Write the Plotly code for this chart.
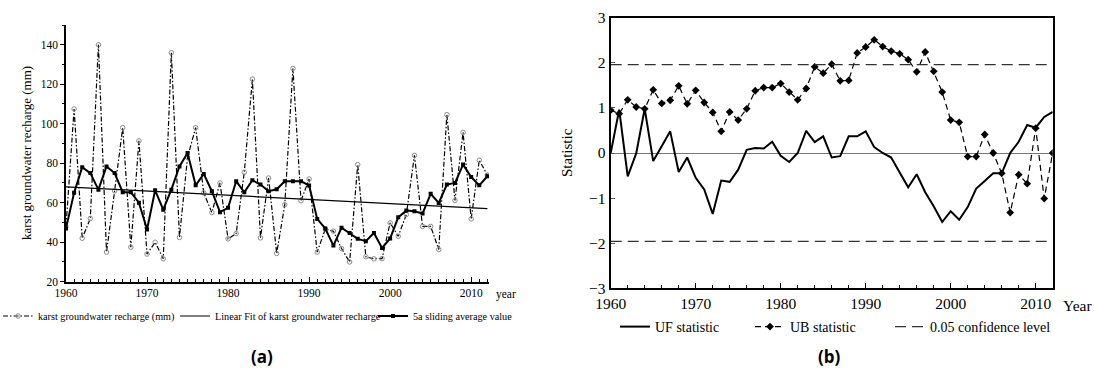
import plotly.graph_objects as go

# ---------------- data (a) ----------------
years_a = list(range(1960, 2013))
recharge = [48, 107.5, 42, 52, 140, 35, 66, 98, 37.5, 91.3,
            34, 40, 31.6, 136, 42.4, 83, 98, 65, 55, 70,
            41.7, 44.4, 75.4, 122.6, 42.2, 72.5, 34.3, 59, 128, 61,
            72, 35, 46.7, 45.6, 36.8, 30, 79.3, 32.6, 31.6, 31.7,
            49.8, 43, 54, 84, 48, 48, 36.3, 104.6, 61.2, 95.6,
            51.8, 81.5, 74]
sliding_avg = [47, 65, 78, 75, 66.6, 78.4, 75, 65.3, 65.3, 60,
               46.4, 66.3, 56.5, 66.6, 78.4, 85.2, 68.8, 74.6, 65.8, 55.2,
               57.4, 70.9, 65.3, 71.4, 69.2, 65.8, 66.8, 70.9, 70.9, 70.9,
               68.7, 51.8, 46.9, 38.3, 47.3, 44.7, 41.7, 40.5, 44.7, 37.1,
               41.9, 52.6, 56, 55.7, 54.5, 64.5, 59.9, 69.2, 70, 79.3,
               73, 68.8, 73.4]
fit_years = [1960, 2012]
fit_values = [68, 57]

# ---------------- data (b) ----------------
years_b = list(range(1960, 2013))
uf = [0, 0.96, -0.52, -0.01, 0.98, -0.18, 0.15, 0.48, -0.42, -0.10,
      -0.55, -0.81, -1.35, -0.61, -0.64, -0.37, 0.07, 0.11, 0.10, 0.25,
      -0.06, -0.20, 0.0, 0.49, 0.24, 0.37, -0.10, -0.07, 0.37, 0.37,
      0.48, 0.13, 0.0, -0.10, -0.43, -0.76, -0.47, -0.87, -1.18, -1.53,
      -1.29, -1.48, -1.20, -0.79, -0.62, -0.45, -0.45, 0.0, 0.25, 0.62,
      0.56, 0.80, 0.91]
ub = [0.95, 0.87, 1.18, 1.02, 0.98, 1.40, 1.10, 1.17, 1.49, 1.09,
      1.39, 1.12, 0.90, 0.48, 0.91, 0.73, 0.98, 1.38, 1.45, 1.45,
      1.54, 1.35, 1.18, 1.43, 1.91, 1.77, 1.97, 1.60, 1.61, 2.22,
      2.35, 2.51, 2.36, 2.26, 2.20, 2.07, 1.80, 2.24, 1.81, 1.35,
      0.73, 0.68, -0.08, -0.08, 0.41, 0.0, -0.45, -1.32, -0.48, -0.68,
      0.55, -1.01, 0.0]
conf_level = 1.96
conf_years = [1960, 2012]

W, H = 1094, 372
SERIF = "Liberation Serif"


def px_x(p):
    return p / W


def px_y(p):
    return 1 - p / H


fig = go.Figure()

# (a) traces
fig.add_trace(go.Scatter(
    x=years_a, y=recharge, mode="lines+markers",
    name="karst groundwater recharge (mm)",
    line=dict(color="black", width=1.2, dash="5px,2px,1.5px,2px"),
    marker=dict(symbol="circle-open", size=4.5, color="#8a8a8a", line=dict(width=1)),
    xaxis="x", yaxis="y", legend="legend"))
fig.add_trace(go.Scatter(
    x=fit_years, y=fit_values, mode="lines",
    name="Linear Fit of karst groundwater recharge",
    line=dict(color="black", width=1.2),
    xaxis="x", yaxis="y", legend="legend2"))
fig.add_trace(go.Scatter(
    x=years_a, y=sliding_avg, mode="lines+markers",
    name="5a sliding average value",
    line=dict(color="black", width=2),
    marker=dict(symbol="square", size=4, color="black"),
    xaxis="x", yaxis="y", legend="legend3"))

# (b) traces
fig.add_trace(go.Scatter(
    x=years_b, y=uf, mode="lines", name="UF statistic",
    line=dict(color="black", width=2),
    xaxis="x2", yaxis="y2", legend="legend4"))
fig.add_trace(go.Scatter(
    x=years_b, y=ub, mode="lines+markers", name="UB statistic",
    line=dict(color="black", width=1.2, dash="6px,4px"),
    marker=dict(symbol="diamond", size=6, color="black"),
    xaxis="x2", yaxis="y2", legend="legend5"))
fig.add_trace(go.Scatter(
    x=conf_years + [None] + conf_years,
    y=[conf_level, conf_level, None, -conf_level, -conf_level],
    mode="lines", name="0.05 confidence level",
    line=dict(color="#333333", width=1.3, dash="11px,6px"),
    xaxis="x2", yaxis="y2", legend="legend6"))


def leg(text_px, ypx, size):
    # plotly places the legend text ~40px right of the legend's left edge
    return dict(orientation="h", x=px_x(text_px - 40), xanchor="left",
                y=px_y(ypx), yanchor="middle",
                font=dict(family=SERIF, size=size, color="black"),
                bgcolor="rgba(0,0,0,0)", borderwidth=0, itemwidth=30)


fig.update_layout(
    width=W, height=H,
    margin=dict(l=0, r=0, t=0, b=0, autoexpand=False),
    paper_bgcolor="white", plot_bgcolor="white",
    showlegend=True,
    xaxis=dict(
        domain=[px_x(66), px_x(489)], range=[1960, 2012.2], automargin=False,
        showline=True, linecolor="black", linewidth=1.5,
        ticks="inside", ticklen=5, tickwidth=1, tickcolor="black",
        dtick=10, tick0=1960,
        minor=dict(dtick=1, ticks="inside", ticklen=3, tickcolor="black"),
        showgrid=False, zeroline=False,
        tickfont=dict(family=SERIF, size=11.5, color="black"),
        anchor="y"),
    yaxis=dict(
        domain=[px_y(281.7), px_y(25)], range=[20, 150], automargin=False,
        showline=True, linecolor="black", linewidth=1.5,
        ticks="outside", ticklen=4, tickwidth=1, tickcolor="black",
        tickvals=[20, 40, 60, 80, 100, 120, 140],
        minor=dict(dtick=10, tick0=10, ticks="outside", ticklen=2.5, tickcolor="black"),
        showgrid=False, zeroline=False,
        tickfont=dict(family=SERIF, size=11.5, color="black"),
        anchor="x"),
    xaxis2=dict(
        domain=[px_x(610.7), px_x(1052.7)], range=[1960, 2012], automargin=False,
        showline=True, linecolor="black", linewidth=2, mirror=True,
        ticks="inside", ticklen=5, tickwidth=1, tickcolor="black",
        dtick=10, tick0=1960,
        minor=dict(dtick=2, ticks="inside", ticklen=3, tickcolor="black"),
        showgrid=False, zeroline=False,
        tickfont=dict(family=SERIF, size=15.5, color="black"),
        anchor="y2"),
    yaxis2=dict(
        domain=[px_y(288.3), px_y(17.7)], range=[-3, 3], automargin=False,
        showline=True, linecolor="black", linewidth=2, mirror=True,
        ticks="inside", ticklen=4, tickwidth=1, tickcolor="#555",
        dtick=1,
        showgrid=False, zeroline=True, zerolinecolor="#777777", zerolinewidth=1.2,
        tickfont=dict(family=SERIF, size=15.5, color="black"),
        anchor="x2"),
    legend=leg(38, 316, 10.2),
    legend2=leg(215, 316, 10.2),
    legend3=leg(413, 316, 10.2),
    legend4=leg(655, 327, 14),
    legend5=leg(790, 327, 14),
    legend6=leg(930, 327, 14),
    annotations=[
        dict(text="karst groundwater recharge (mm)", x=px_x(26), y=px_y(153),
             xref="paper", yref="paper", xanchor="center", yanchor="middle",
             textangle=-90, showarrow=False,
             font=dict(family=SERIF, size=13, color="black")),
        dict(text="year", x=px_x(506), y=px_y(294), xref="paper", yref="paper",
             xanchor="center", yanchor="middle",
             showarrow=False, font=dict(family=SERIF, size=11.5, color="black")),
        dict(text="Statistic", x=px_x(567), y=px_y(153), xref="paper", yref="paper",
             xanchor="center", yanchor="middle",
             textangle=-90, showarrow=False,
             font=dict(family=SERIF, size=15, color="black")),
        dict(text="Year", x=px_x(1077), y=px_y(305), xref="paper", yref="paper",
             xanchor="center", yanchor="middle",
             showarrow=False, font=dict(family=SERIF, size=15.5, color="black")),
        dict(text="<b>(a)</b>", x=px_x(262), y=px_y(356), xref="paper", yref="paper",
             xanchor="center", yanchor="middle",
             showarrow=False, font=dict(family="Open Sans", size=17, color="black")),
        dict(text="<b>(b)</b>", x=px_x(829), y=px_y(356), xref="paper", yref="paper",
             xanchor="center", yanchor="middle",
             showarrow=False, font=dict(family="Open Sans", size=17, color="black")),
    ],
)

fig.write_html(
    "out.html",
    config={"displayModeBar": False},
    post_script="document.body.style.margin='0';document.body.style.overflow='hidden';",
)
